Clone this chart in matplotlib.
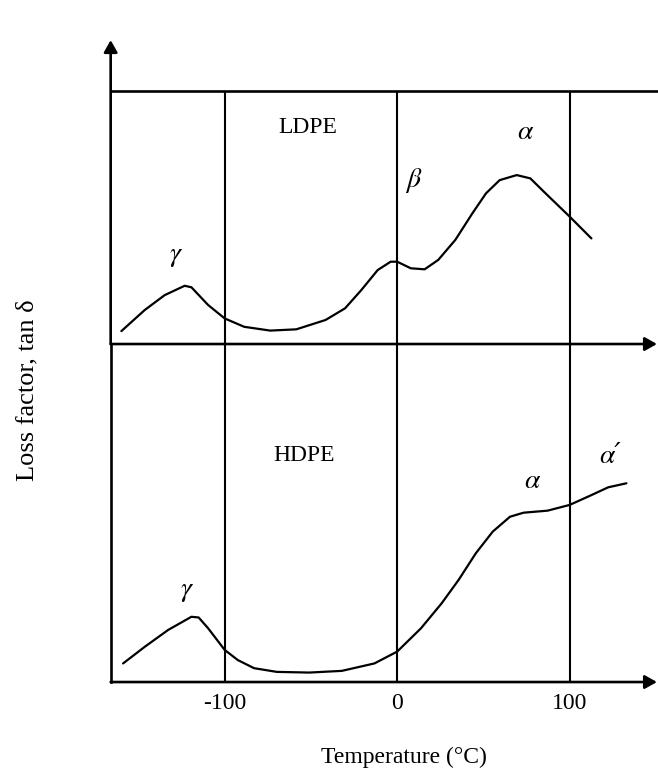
import numpy as np
import matplotlib
matplotlib.use("Agg")
import matplotlib.pyplot as plt

plt.rcParams['font.family'] = ['Liberation Serif', 'DejaVu Serif']
plt.rcParams['mathtext.fontset'] = 'stix'

# LDPE loss factor (arbitrary units, 0..1 of panel height) vs temperature in C
ldpe_temp = [-159.9, -146.4, -134.8, -123.2, -119.3, -109.6, -100.0, -88.7, -73.6,
             -58.5, -41.5, -30.2, -20.8, -11.3, -3.8, 0.0, 7.9, 15.9, 23.8, 33.7,
             43.6, 51.5, 59.4, 69.3, 77.2, 85.1, 100.0, 112.6]
ldpe_tan = [0.051, 0.134, 0.193, 0.230, 0.224, 0.154, 0.101, 0.068, 0.053,
            0.058, 0.095, 0.141, 0.213, 0.292, 0.325, 0.325, 0.299, 0.295, 0.332, 0.411,
            0.516, 0.595, 0.647, 0.667, 0.654, 0.601, 0.503, 0.417]

# HDPE loss factor
hdpe_temp = [-158.9, -146.4, -132.8, -119.3, -115.1, -109.6, -100.0, -92.4, -83.0,
             -69.8, -50.9, -32.1, -13.2, 0.0, 13.8, 25.8, 35.6, 45.6, 55.4, 65.4,
             73.3, 87.2, 100.0, 112.6, 122.3, 132.9]
hdpe_tan = [0.055, 0.104, 0.154, 0.193, 0.191, 0.159, 0.095, 0.065, 0.041,
            0.030, 0.028, 0.033, 0.055, 0.090, 0.159, 0.233, 0.302, 0.381, 0.445, 0.489,
            0.501, 0.507, 0.524, 0.553, 0.576, 0.588]

ticks = [-100, 0, 100]
tick_labels = ['-100', '0', '100']

fig = plt.figure(figsize=(6.58, 7.71), dpi=100)
ax_top = fig.add_axes([0.1682, 0.5538, 0.8302, 0.3285])
ax_bot = fig.add_axes([0.1682, 0.1154, 0.8302, 0.4384])

xlim = (-166.1, 150.6)
for ax in (ax_top, ax_bot):
    ax.set_xlim(*xlim)
    ax.set_ylim(0, 1)
    ax.set_facecolor('none')
    for s in ax.spines.values():
        s.set_visible(False)
    ax.set_yticks([])
    for t in ticks:
        ax.axvline(t, color='black', lw=1.5)

ax_top.set_xticks([])
ax_bot.set_xticks(ticks)
ax_bot.set_xticklabels(tick_labels, fontsize=17)
ax_bot.tick_params(axis='x', length=0, pad=8)

arrow = dict(arrowstyle='-|>,head_length=0.8,head_width=0.45', color='black',
             lw=1.9, shrinkA=0, shrinkB=0, mutation_scale=9)

def axis_arrow(ax, start, end):
    ax.annotate('', xy=end, xytext=start, xycoords='axes fraction',
                textcoords='axes fraction', arrowprops=arrow, annotation_clip=False)

# horizontal axes with arrows, plain top border, and the long vertical axis
axis_arrow(ax_bot, (0, 0), (1, 0))
axis_arrow(ax_top, (0, 0), (1, 0))
ax_top.plot([0, 1], [1, 1], transform=ax_top.transAxes, color='black', lw=1.9, clip_on=False)
ax_bot.plot([0, 0], [0, 1], transform=ax_bot.transAxes, color='black', lw=1.9, clip_on=False)
axis_arrow(ax_top, (0, 0), (0, 1.2))

curve = dict(color='black', lw=1.6, solid_joinstyle='round', solid_capstyle='round')
ax_top.plot(ldpe_temp, ldpe_tan, **curve)
ax_bot.plot(hdpe_temp, hdpe_tan, **curve)

lab = dict(ha='center', va='center')
greek = dict(ha='center', va='center', fontsize=20,
             family=['STIXGeneral', 'DejaVu Sans'], style='italic')
ax_top.text(-51.7, 0.853, 'LDPE', fontsize=17, **lab)
ax_top.text(-128.8, 0.351, 'γ', **greek)
ax_top.text(9.2, 0.647, 'β', **greek)
ax_top.text(73.8, 0.833, 'α', **greek)

ax_bot.text(-53.7, 0.669, 'HDPE', fontsize=17, **lab)
ax_bot.text(-122.4, 0.272, 'γ', **greek)
ax_bot.text(78.4, 0.593, 'α', **greek)
ax_bot.text(123.4, 0.667, 'α′', **greek)

fig.text(404 / 658, 1 - 757 / 771, 'Temperature (°C)', fontsize=17, ha='center', va='center')
fig.text(27 / 658, 1 - 390 / 771, 'Loss factor, tan δ', fontsize=19, rotation=90,
         ha='center', va='center')

fig.savefig('out.png', dpi=100)
